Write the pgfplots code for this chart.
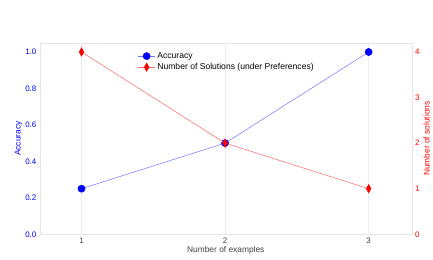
\documentclass[border=0pt]{standalone}
\usepackage{pgfplots}
\pgfplotsset{compat=1.18}
\usepackage{fontspec}
\setmainfont{Liberation Sans}
\begin{document}
\begin{tikzpicture}[font=\fontsize{8.2}{9.8}\selectfont]
\pgfplotsset{
  common/.style={
    scale only axis, width=373pt, height=192pt,
    xmin=0.71, xmax=3.3,
    axis line style={gray!20},
    tick style={draw=none},
    /pgf/number format/assume math mode=true,
    tick label style={font=\fontsize{8}{9.6}\selectfont},
    label style={font=\fontsize{8.4}{10}\selectfont},
  }
}
\begin{axis}[common,
  ymin=0, ymax=1.05,
  ytick={0,0.2,0.4,0.6,0.8,1.0},
  yticklabel style={text=blue, /pgf/number format/fixed, /pgf/number format/fixed zerofill, /pgf/number format/precision=1},
  xtick={1,2,3},
  xticklabel style={text=black!75},
  xmajorgrids, grid style={gray!15, line width=0.4pt},
  xlabel={Number of examples}, xlabel style={text=black!75, yshift=4pt},
  ylabel={Accuracy}, ylabel style={text=blue, yshift=-4pt},
]
\addplot[color=blue!55, line width=0.5pt, mark=*, mark size=3.6pt, mark options={draw=blue, fill=blue}]
  coordinates {(1,0.25) (2,0.5) (3,1.0)};
\end{axis}
\begin{axis}[common,
  ymin=0, ymax=4.2,
  axis y line*=right, axis x line=none,
  ytick={0,1,2,3,4},
  yticklabel style={text=red},
  ylabel={Number of solutions}, ylabel style={text=red, yshift=3pt},
  legend style={at={(0.255,0.972)}, anchor=north west, draw=none, fill=none,
    font=\fontsize{8.6}{10}\selectfont, row sep=-0.5pt},
  legend cell align=left,
]
\addlegendimage{color=blue!55, line width=0.5pt, mark=*, mark size=3.6pt, mark options={draw=blue, fill=blue}}
\addlegendentry{Accuracy}
\addplot[color=red!60, line width=0.5pt, mark=diamond*, mark size=4.2pt, mark options={draw=red, fill=red, xscale=0.75}]
  coordinates {(1,4) (2,2) (3,1)};
\addlegendentry{Number of Solutions (under Preferences)}
\end{axis}
\path (-40pt,-25pt) rectangle (393pt,235pt);
\end{tikzpicture}
\end{document}
